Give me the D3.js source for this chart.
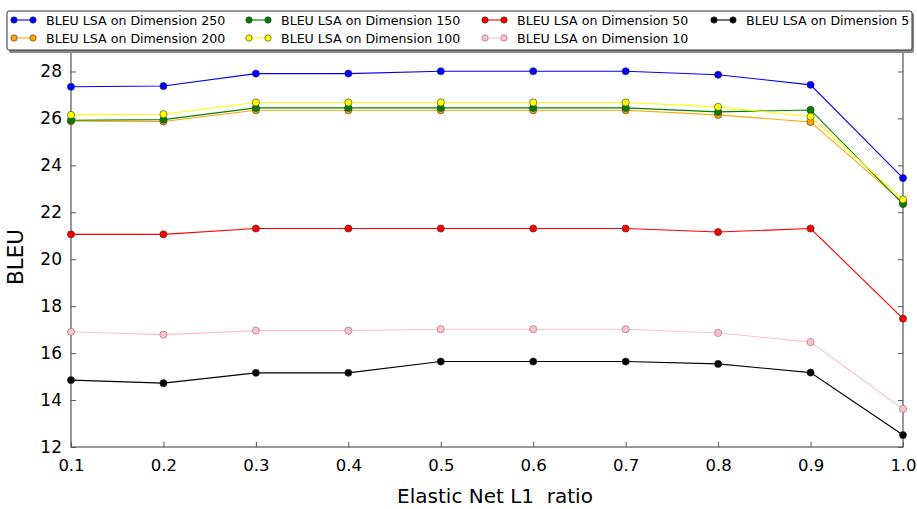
<!DOCTYPE html>
<html>
<head>
<meta charset="utf-8">
<script src="https://cdn.jsdelivr.net/npm/d3@7"></script>
<style>
  body { margin: 0; background: #fff; }
  svg { font-family: "DejaVu Sans", sans-serif; }
</style>
</head>
<body>
<script>
// x values (Elastic Net L1 ratio)
const ratios = [0.1, 0.2, 0.3, 0.4, 0.5, 0.6, 0.7, 0.8, 0.9, 1.0];

// BLEU per LSA dimension
const dim250 = [27.35, 27.38, 27.91, 27.91, 28.01, 28.01, 28.01, 27.86, 27.43, 23.46];
const dim200 = [25.88, 25.87, 26.35, 26.35, 26.35, 26.35, 26.35, 26.15, 25.85, 22.42];
const dim150 = [25.92, 25.95, 26.45, 26.45, 26.45, 26.45, 26.45, 26.28, 26.36, 22.35];
const dim100 = [26.15, 26.18, 26.68, 26.68, 26.68, 26.68, 26.68, 26.49, 26.08, 22.55];
const dim50  = [21.06, 21.06, 21.31, 21.31, 21.31, 21.31, 21.31, 21.16, 21.31, 17.47];
const dim10  = [16.91, 16.79, 16.96, 16.96, 17.02, 17.02, 17.02, 16.86, 16.47, 13.62];
const dim5   = [14.85, 14.72, 15.16, 15.16, 15.64, 15.64, 15.64, 15.54, 15.17, 12.51];

const seriesNames = ["BLEU LSA on Dimension 250", "BLEU LSA on Dimension 200",
  "BLEU LSA on Dimension 150", "BLEU LSA on Dimension 100",
  "BLEU LSA on Dimension 50", "BLEU LSA on Dimension 10", "BLEU LSA on Dimension 5"];
const seriesValues = [dim250, dim200, dim150, dim100, dim50, dim10, dim5];
const lineColors = ["#0000ff", "#ffa500", "#008000", "#ffff00", "#ff0000", "#ffc0cb", "#000000"];

const yTicks = [12, 14, 16, 18, 20, 22, 24, 26, 28];

const width = 917, height = 509;
const plotLeft = 71, plotRight = 903, plotTop = 48, plotBottom = 447;

const svg = d3.select("body").append("svg")
  .attr("width", width).attr("height", height);

const x = d3.scaleLinear().domain([0.1, 1.0]).range([plotLeft, plotRight]);
const y = d3.scaleLinear().domain([12, 29]).range([plotBottom, plotTop]);

// frame
svg.append("rect")
  .attr("x", plotLeft).attr("y", plotTop)
  .attr("width", plotRight - plotLeft).attr("height", plotBottom - plotTop)
  .attr("fill", "none").attr("stroke", "#555").attr("stroke-width", 1.2);

// axes with inward ticks
const fmtX = d3.format(".1f");
const bottomAxis = svg.append("g")
  .attr("transform", "translate(0," + plotBottom + ")")
  .call(d3.axisBottom(x).tickValues(ratios).tickFormat(fmtX).tickSizeInner(-5).tickSizeOuter(0).tickPadding(12));
const leftAxis = svg.append("g")
  .attr("transform", "translate(" + plotLeft + ",0)")
  .call(d3.axisLeft(y).tickValues(yTicks).tickFormat(d3.format("d")).tickSizeInner(-5).tickSizeOuter(0).tickPadding(9));
const topAxis = svg.append("g")
  .attr("transform", "translate(0," + plotTop + ")")
  .call(d3.axisTop(x).tickValues(ratios).tickFormat("").tickSizeInner(-5).tickSizeOuter(0));
const rightAxis = svg.append("g")
  .attr("transform", "translate(" + plotRight + ",0)")
  .call(d3.axisRight(y).tickValues(yTicks).tickFormat("").tickSizeInner(-5).tickSizeOuter(0));

[bottomAxis, leftAxis, topAxis, rightAxis].forEach(g => {
  g.select(".domain").remove();
  g.selectAll(".tick line").attr("stroke", "#555");
  g.selectAll("text").attr("font-family", "DejaVu Sans").attr("fill", "#000");
});
bottomAxis.selectAll("text").attr("font-size", 16.5);
leftAxis.selectAll("text").attr("font-size", 17);

// axis titles
svg.append("text")
  .attr("x", 495).attr("y", 503)
  .attr("text-anchor", "middle").attr("font-size", 20)
  .style("white-space", "pre")
  .text("Elastic Net L1  ratio");
svg.append("text")
  .attr("transform", "translate(23,257) rotate(-90)")
  .attr("text-anchor", "middle").attr("font-size", 21.5)
  .text("BLEU");

// lines and markers
const line = d3.line().x((d, i) => x(ratios[i])).y(d => y(d));
const plot = svg.append("g");
seriesValues.forEach((vals, k) => {
  plot.append("path")
    .datum(vals)
    .attr("d", line)
    .attr("fill", "none")
    .attr("stroke", lineColors[k])
    .attr("stroke-width", 1.1);
  plot.selectAll(null)
    .data(vals)
    .enter()
    .append("circle")
    .attr("cx", (d, i) => x(ratios[i]))
    .attr("cy", d => y(d))
    .attr("r", 3.6)
    .attr("fill", lineColors[k])
    .attr("stroke", k === 5 ? "#8a6a70" : "#333")
    .attr("stroke-width", 0.6);
});

// legend
const lg = svg.append("g");
lg.append("rect")
  .attr("x", 9).attr("y", 13).attr("width", 905).attr("height", 40)
  .attr("rx", 2).attr("fill", "#888");
lg.append("rect")
  .attr("x", 7).attr("y", 11).attr("width", 905).attr("height", 39)
  .attr("rx", 2).attr("fill", "#fff").attr("stroke", "#333").attr("stroke-width", 1);
const colX = [12, 247, 483, 712];
const rowY = [20, 38];
seriesNames.forEach((name, k) => {
  const cx = colX[Math.floor(k / 2)];
  const cy = rowY[k % 2];
  lg.append("line")
    .attr("x1", cx + 2).attr("x2", cx + 21).attr("y1", cy).attr("y2", cy)
    .attr("stroke", lineColors[k]).attr("stroke-width", 1.1);
  [cx + 2, cx + 21].forEach(px => {
    lg.append("circle")
      .attr("cx", px).attr("cy", cy).attr("r", 3.2)
      .attr("fill", lineColors[k])
      .attr("stroke", k === 5 ? "#8a6a70" : "#333").attr("stroke-width", 0.6);
  });
  lg.append("text")
    .attr("x", cx + 34).attr("y", cy + 4.5)
    .attr("font-size", 12.6)
    .text(name);
});
</script>
</body>
</html>
